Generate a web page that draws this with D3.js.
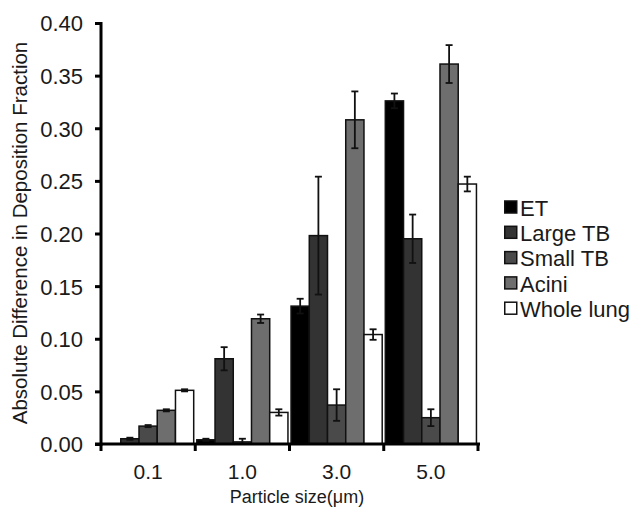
<!DOCTYPE html>
<html><head><meta charset="utf-8">
<script src="https://cdn.jsdelivr.net/npm/d3@7"></script>
<style>body{margin:0;background:#fff}svg{display:block}text{font-family:"Liberation Sans",Arial,sans-serif;fill:#1a1a1a}</style>
</head><body><svg id="c" width="639" height="513"></svg>
<script>
const categories = ["0.1", "1.0", "3.0", "5.0"];
const seriesNames = ["ET", "Large TB", "Small TB", "Acini", "Whole lung"];
const seriesColors = ["#000000", "#333333", "#4a4a4a", "#6e6e6e", "#ffffff"];
const etValues = [0, 0.004, 0.131, 0.326];
const etErrors = [0, 0.001, 0.007, 0.007];
const largeTBValues = [0.005, 0.081, 0.198, 0.195];
const largeTBErrors = [0.001, 0.011, 0.056, 0.023];
const smallTBValues = [0.017, 0.002, 0.037, 0.025];
const smallTBErrors = [0.001, 0.003, 0.015, 0.008];
const aciniValues = [0.032, 0.119, 0.308, 0.361];
const aciniErrors = [0.001, 0.004, 0.027, 0.018];
const wholeLungValues = [0.051, 0.030, 0.104, 0.247];
const wholeLungErrors = [0.001, 0.003, 0.005, 0.007];
const yTicks = [0, 0.05, 0.10, 0.15, 0.20, 0.25, 0.30, 0.35, 0.40];

const values = [etValues, largeTBValues, smallTBValues, aciniValues, wholeLungValues];
const errors = [etErrors, largeTBErrors, smallTBErrors, aciniErrors, wholeLungErrors];

const svg = d3.select("#c");
const x0 = 101, x1 = 478, yTop = 23, yBot = 444;
const x = d3.scaleBand().domain(categories).range([x0, x1]).paddingInner(0).paddingOuter(0);
const xs = d3.scaleBand().domain(seriesNames).range([0, x.bandwidth()]).paddingOuter(0.085).paddingInner(0);
const y = d3.scaleLinear().domain([0, 0.40]).range([yBot, yTop]);

// bars
seriesNames.forEach((s, si) => {
  const g = svg.append("g");
  categories.forEach((c, ci) => {
    const v = values[si][ci];
    if (v <= 0) return;
    const bx = x(c) + xs(s);
    g.append("rect").attr("x", bx).attr("y", y(v)).attr("width", xs.bandwidth()).attr("height", y(0) - y(v))
      .attr("fill", seriesColors[si]).attr("stroke", "#111").attr("stroke-width", 1.5);
  });
});
// error bars
seriesNames.forEach((s, si) => {
  categories.forEach((c, ci) => {
    const v = values[si][ci], e = errors[si][ci];
    if (v <= 0) return;
    const cx = x(c) + xs(s) + xs.bandwidth() / 2;
    const lo = Math.max(0, v - e), hi = v + e;
    svg.append("line").attr("x1", cx).attr("x2", cx).attr("y1", y(lo)).attr("y2", y(hi)).attr("stroke", "#111").attr("stroke-width", 1.8);
    [lo, hi].forEach(t => svg.append("line").attr("x1", cx - 3.5).attr("x2", cx + 3.5).attr("y1", y(t)).attr("y2", y(t)).attr("stroke", "#111").attr("stroke-width", 1.8));
  });
});

// y axis
const ya = svg.append("g").attr("transform", `translate(${x0},0)`)
  .call(d3.axisLeft(y).tickValues(yTicks).tickFormat(d3.format(".2f")).tickSize(6).tickPadding(12));
ya.select(".domain").attr("stroke", "#000").attr("stroke-width", 3).attr("d", `M0,${yTop-1}V${yBot+1.5}`);
ya.selectAll(".tick line").attr("stroke", "#000").attr("stroke-width", 3);
ya.selectAll(".tick text").style("font-size", "22px").attr("dy", "0.36em").style("fill", "#1a1a1a");

// x axis
const xa = svg.append("g").attr("transform", `translate(0,${yBot})`)
  .call(d3.axisBottom(x).tickSize(0).tickPadding(20));
xa.select(".domain").attr("stroke", "#000").attr("stroke-width", 3).attr("d", `M${x0-6},0H${x1+2}`);
xa.selectAll(".tick text").style("font-size", "21px").style("fill", "#1a1a1a");
const bounds = categories.map(c => x(c)).concat([x(categories[categories.length - 1]) + x.bandwidth()]);
xa.selectAll(".bt").data(bounds).enter().append("line").attr("class", "bt")
  .attr("x1", d => d).attr("x2", d => d).attr("y1", 0).attr("y2", 7).attr("stroke", "#000").attr("stroke-width", 3);

// axis titles
svg.append("text").attr("x", 297).attr("y", 503).attr("text-anchor", "middle").style("font-size", "18px").text("Particle size(μm)");
svg.append("text").attr("transform", `translate(27,233) rotate(-90)`).attr("text-anchor", "middle").style("font-size", "20.5px")
  .text("Absolute Difference in Deposition Fraction");

// legend
const lg = svg.append("g").attr("transform", "translate(504,207)");
seriesNames.forEach((s, i) => {
  const gy = i * 25.3;
  lg.append("rect").attr("x", 0.75).attr("y", gy - 6).attr("width", 12).attr("height", 12)
    .attr("fill", seriesColors[i]).attr("stroke", "#111").attr("stroke-width", 1.5);
  lg.append("text").attr("x", 16).attr("y", gy + 1).attr("dy", "0.35em").style("font-size", "22px").text(s);
});
</script></body></html>
